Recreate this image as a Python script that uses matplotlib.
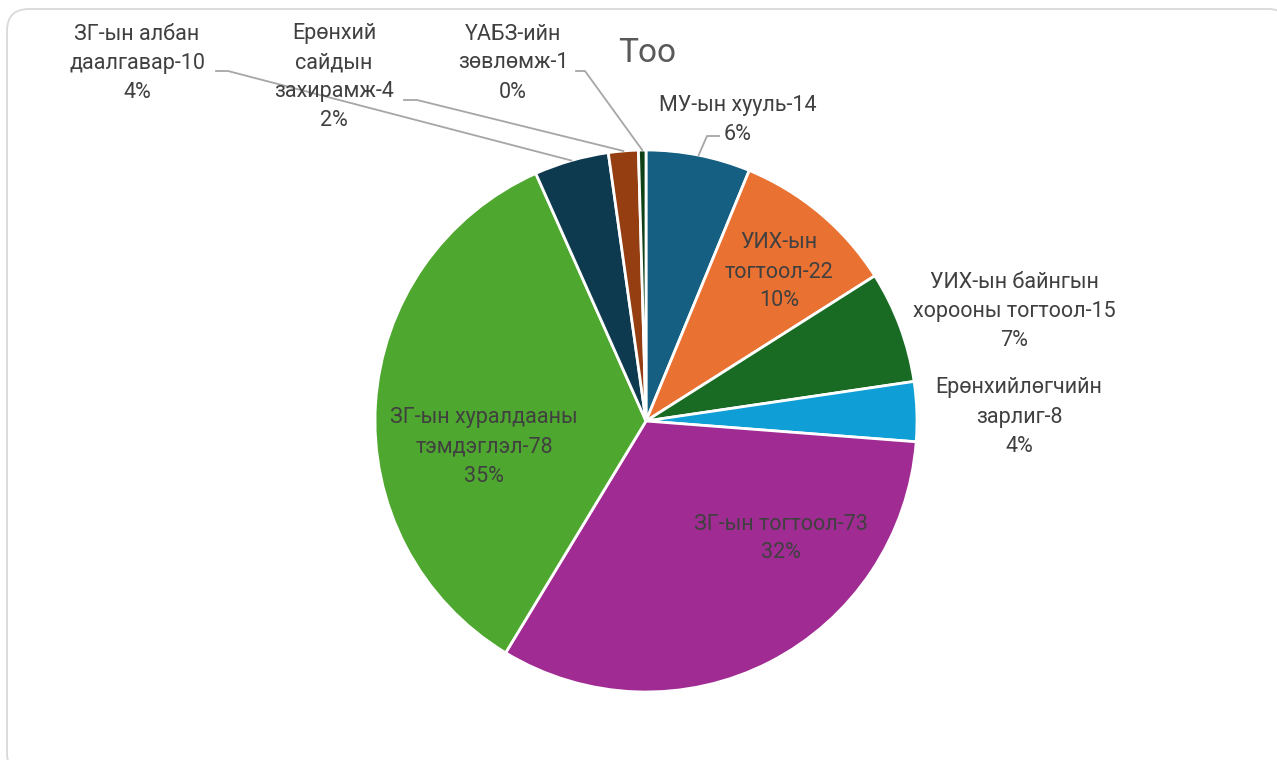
import matplotlib
matplotlib.use("Agg")
import matplotlib.pyplot as plt
from matplotlib.patches import FancyBboxPatch
import numpy as np

plt.rcParams['font.family'] = ['Roboto', 'DejaVu Sans']

# ---- data ----
categories = ["МУ-ын хууль", "УИХ-ын тогтоол", "УИХ-ын байнгын хорооны тогтоол",
              "Ерөнхийлөгчийн зарлиг", "ЗГ-ын тогтоол", "ЗГ-ын хуралдааны тэмдэглэл",
              "ЗГ-ын албан даалгавар", "Ерөнхий сайдын захирамж", "ҮАБЗ-ийн зөвлөмж"]
values = [14, 22, 15, 8, 73, 78, 10, 4, 1]
title = "Too"

# ---- style / layout ----
colors = ["#156082", "#E97132", "#196B24", "#0F9ED5", "#A02B93", "#4EA72E",
          "#0E3A50", "#953E12", "#0F4016"]
# label text (line breaks) and label centre positions in pixel coords (x, y from top)
label_lines = [["МУ-ын хууль-{v}"],
               ["УИХ-ын", "тогтоол-{v}"],
               ["УИХ-ын байнгын", "хорооны тогтоол-{v}"],
               ["Ерөнхийлөгчийн", "зарлиг-{v}"],
               ["ЗГ-ын тогтоол-{v}"],
               ["ЗГ-ын хуралдааны", "тэмдэглэл-{v}"],
               ["ЗГ-ын албан", "даалгавар-{v}"],
               ["Ерөнхий", "сайдын", "захирамж-{v}"],
               ["ҮАБЗ-ийн", "зөвлөмж-{v}"]]
label_top = [(738, 105), (779, 243), (1014, 282), (1019, 388), (781, 524),
             (484, 418), (137, 34), (334, 34), (513, 34)]
# leader start (pixel) for outside labels with lines
leaders = {0: [(719, 136), (707, 136)],
           6: [(216, 71), (228, 71)],
           7: [(404, 100), (417, 100)],
           8: [(576, 71), (585, 71)]}

W, H = 1277, 760
fig = plt.figure(figsize=(W / 100, H / 100), dpi=100)
ax = fig.add_axes([0, 0, 1, 1])
ax.set_xlim(0, W)
ax.set_ylim(0, H)
ax.axis('off')

# frame
frame = FancyBboxPatch((7, H - 775), 1290 - 7, 775 - 9,
                       boxstyle="round,pad=0,rounding_size=22",
                       fc="white", ec="#D9D9D9", lw=1.3, zorder=0)
ax.add_patch(frame)

cx, cy, r = 646, H - 421, 271
wedges, _ = ax.pie(values, colors=colors, startangle=90, counterclock=False,
                   center=(cx, cy), radius=r,
                   wedgeprops=dict(edgecolor="white", linewidth=2.0),
                   frame=True)
ax.set_xlim(0, W)
ax.set_ylim(0, H)
ax.set_aspect('equal')
ax.axis('off')

total = sum(values)
line_h = 29
tc = "#404040"
for i, (lines, (lx, ly)) in enumerate(zip(label_lines, label_top)):
    pct = round(values[i] / total * 100)
    txt = [s.format(v=values[i]) for s in lines] + [f"{pct}%"]
    for j, s in enumerate(txt):
        ax.text(lx, H - (ly + j * line_h), s, ha='center', va='center',
                fontsize=15.5, color=tc, zorder=5)

# leader lines
cum = np.cumsum([0] + values)
for i, pts in leaders.items():
    mid = (cum[i] + cum[i + 1]) / 2 / total * 2 * np.pi
    ex = cx + r * np.sin(mid)
    ey = cy + r * np.cos(mid)
    xs = [p[0] for p in pts] + [ex]
    ys = [H - p[1] for p in pts] + [ey]
    ax.plot(xs, ys, color="#A6A6A6", lw=1.3, zorder=4)

ax.text(647, H - 53, title, ha='center', va='center', fontsize=24, color="#595959")

fig.savefig("out.png", dpi=100)
